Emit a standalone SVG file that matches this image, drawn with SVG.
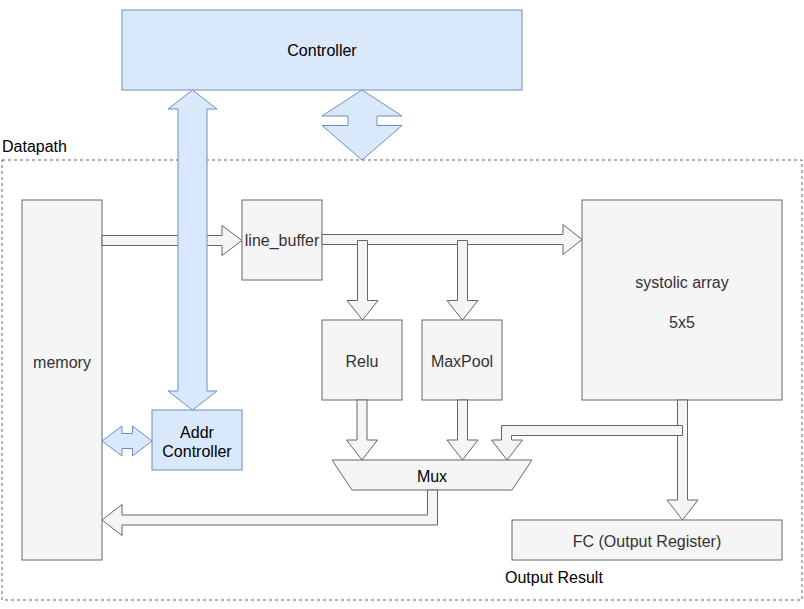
<svg xmlns="http://www.w3.org/2000/svg" width="804" height="609" viewBox="0 0 804 609">
<style>
.g{fill:#f5f5f5;stroke:#666666;stroke-width:1}
.b{fill:#dae8fc;stroke:#6c8ebf;stroke-width:1}
.t{font-family:"Liberation Sans",Arial,sans-serif;font-size:16px;text-anchor:middle;fill:#333333}
.tb{font-family:"Liberation Sans",Arial,sans-serif;font-size:16px;text-anchor:middle;fill:#000000}
.tl{font-family:"Liberation Sans",Arial,sans-serif;font-size:16px;fill:#000000}
</style>
<rect width="804" height="609" fill="#ffffff"/>
<g id="datapath">
<rect x="2" y="160" width="800" height="440" fill="none" stroke="#666666" stroke-dasharray="3,3"/>
<text class="tl" x="2" y="152">Datapath</text>
</g>
<g id="controller">
<rect class="b" x="122" y="10" width="400" height="80"/>
<text class="tb" x="322" y="55.5">Controller</text>
</g>
<g id="memory">
<rect class="g" x="22" y="200" width="80" height="360"/>
<text class="t" x="62" y="367.5">memory</text>
</g>
<g id="line_buffer">
<rect class="g" x="242" y="200" width="80" height="80"/>
<text class="t" x="282" y="245.5">line_buffer</text>
</g>
<g id="systolic">
<rect class="g" x="582" y="200" width="200" height="200"/>
<text class="t" x="682" y="287.5">systolic array</text>
<text class="t" x="682" y="327.5">5x5</text>
</g>
<g id="relu">
<rect class="g" x="322" y="320" width="80" height="80"/>
<text class="t" x="362" y="366.5">Relu</text>
</g>
<g id="maxpool">
<rect class="g" x="422" y="320" width="80" height="80"/>
<text class="t" x="462" y="366.5">MaxPool</text>
</g>
<g id="addr">
<rect class="b" x="152" y="410" width="90" height="60"/>
<text class="tb" x="197" y="437.5">Addr</text>
<text class="tb" x="197" y="456.5">Controller</text>
</g>
<g id="mux">
<polygon class="g" points="332,460 532,460 512,490 352,490"/>
<text class="tb" x="432" y="481.5">Mux</text>
</g>
<g id="fc">
<rect class="g" x="512" y="520" width="270" height="40"/>
<text class="t" x="647" y="546.5">FC (Output Register)</text>
</g>
<g id="output_result">
<text class="tl" x="505" y="583">Output Result</text>
</g>
<g id="connectors">
<polygon class="g" points="102,235.5 222,235.5 222,225.5 242,240.5 222,255.5 222,245.5 102,245.5"/>
<polygon class="g" points="322,234.5 563,234.5 563,224.5 582,239.5 563,254.5 563,244.5 322,244.5"/>
<polygon class="g" points="357.5,240.5 367.5,240.5 367.5,300.5 378,300.5 362.5,320 347,300.5 357.5,300.5"/>
<polygon class="g" points="457.5,240.5 467.5,240.5 467.5,300.5 478,300.5 462.5,320 447,300.5 457.5,300.5"/>
<polygon class="g" points="357,400 367,400 367,440 377.5,440 362,460 346.5,440 357,440"/>
<polygon class="g" points="457.5,400 467.5,400 467.5,440 478,440 462.5,460 447,440 457.5,440"/>
<polygon class="g" points="677.5,400 687.5,400 687.5,500 698,500 682.5,520 667,500 677.5,500"/>
<polygon class="g" points="682.5,425.5 501.5,425.5 501.5,440 491.5,440 507,460 522.5,440 511.5,440 511.5,435.5 682.5,435.5"/>
<polygon class="g" points="427.5,490 437.5,490 437.5,525 122,525 122,535.5 102,520 122,504.5 122,515 427.5,515"/>
<polygon class="b" points="192.5,90 217,109 207,109 207,391 217,391 192.5,410 168,391 178,391 178,109 168,109"/>
<polygon class="b" points="362,90 402,116 377,116 377,125.5 402,125.5 362,160 322,125.5 348,125.5 348,116 322,116"/>
<polygon class="b" points="102,441 122,426 122,433.5 132.5,433.5 132.5,426 152,441 132.5,456 132.5,448.5 122,448.5 122,456"/>
</g>
</svg>
